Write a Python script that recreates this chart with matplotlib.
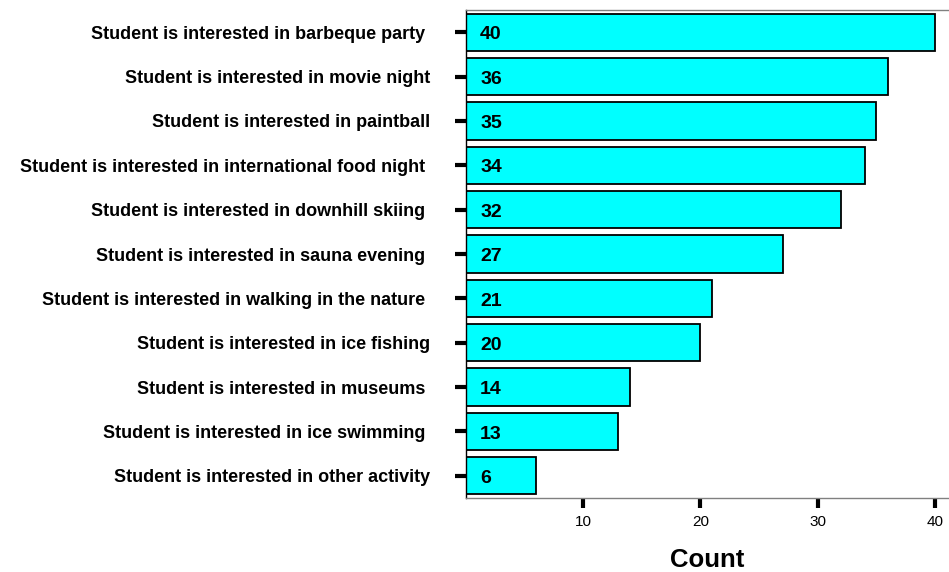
import matplotlib
matplotlib.use("Agg")
import matplotlib.pyplot as plt

categories = [
    "Student is interested in barbeque party ",
    "Student is interested in movie night",
    "Student is interested in paintball",
    "Student is interested in international food night ",
    "Student is interested in downhill skiing ",
    "Student is interested in sauna evening ",
    "Student is interested in walking in the nature ",
    "Student is interested in ice fishing",
    "Student is interested in museums ",
    "Student is interested in ice swimming ",
    "Student is interested in other activity",
]
counts = [40, 36, 35, 34, 32, 27, 21, 20, 14, 13, 6]
x_ticks = [10, 20, 30, 40]

plt.rcParams["font.family"] = ["Liberation Sans", "DejaVu Sans"]

fig = plt.figure(figsize=(9.49, 5.72), dpi=100)
ax = fig.add_axes([466 / 949, 1 - 498 / 572, (949 - 466) / 949, (498 - 10) / 572])

pos = list(range(len(categories)))
ax.barh(pos, counts, height=0.84, color="#00ffff", edgecolor="black", linewidth=1.3)

for p, c in zip(pos, counts):
    ax.text(1.2, p + 0.06, str(c), ha="left", va="center", fontsize=14, fontweight="bold")

ax.set_xlim(0, 41.2)
ax.set_ylim(10.5, -0.5)
ax.set_yticks(pos)
ax.set_yticklabels(categories, fontsize=13, fontweight="bold")
ax.set_xticks(x_ticks)
ax.set_xticklabels([str(t) for t in x_ticks], fontsize=11)
ax.tick_params(axis="y", direction="out", length=8, width=3, pad=18, color="black")
ax.tick_params(axis="x", direction="out", length=7, width=3, pad=5, color="black")
ax.set_xlabel("Count", fontsize=18.5, fontweight="bold", labelpad=14)

for side in ("top", "bottom"):
    ax.spines[side].set_color("#808080")
    ax.spines[side].set_linewidth(1.0)
ax.spines["left"].set_color("black")
ax.spines["left"].set_linewidth(1.0)
ax.spines["right"].set_visible(False)

fig.savefig("out.png", dpi=100)
